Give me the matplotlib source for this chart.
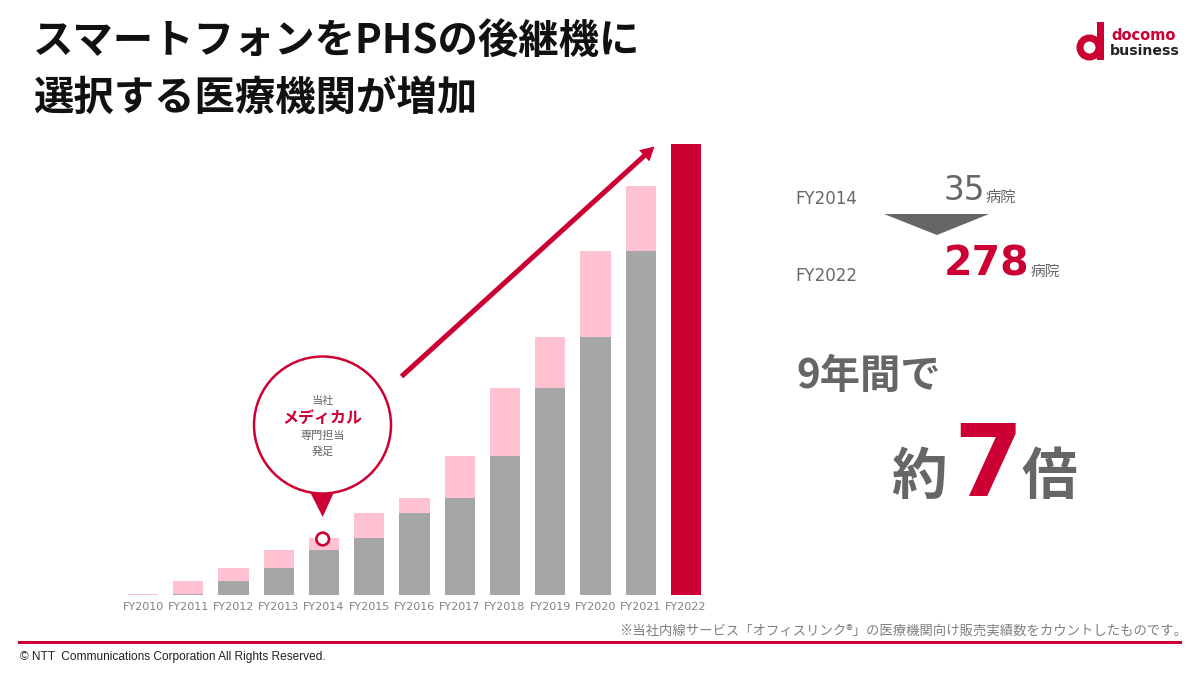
import matplotlib
matplotlib.use('Agg')
import matplotlib.pyplot as plt
from matplotlib.patches import Circle, Polygon, Rectangle, FancyArrowPatch

plt.rcParams['font.family'] = ['Noto Sans CJK JP', 'DejaVu Sans']

RED = '#CC0033'
PINK = '#FFC2D1'
GRAY = '#A6A6A6'
TEXT = '#666666'

# hospitals per fiscal year
years = ['FY2010', 'FY2011', 'FY2012', 'FY2013', 'FY2014', 'FY2015', 'FY2016',
         'FY2017', 'FY2018', 'FY2019', 'FY2020', 'FY2021', 'FY2022']
previous = [0, 1, 9, 17, 28, 35, 51, 60, 86, 128, 159, 212, 0]
added = [1, 8, 8, 11, 7, 16, 9, 26, 42, 31, 53, 40, 0]
final = [0, 0, 0, 0, 0, 0, 0, 0, 0, 0, 0, 0, 278]

W, H = 1200, 675
fig = plt.figure(figsize=(12, 6.75), dpi=100, facecolor='white')

# overlay in pixel coordinates for the slide furniture
bg = fig.add_axes([0, 0, 1, 1])
bg.set_xlim(0, W)
bg.set_ylim(H, 0)
bg.axis('off')

# chart axes, lined up with the baseline at y=595 and FY2022 top at y=144
step = 45.25
left, right = 143 - step / 2, 686 + step / 2
base, top = 595.3, 144
ax = fig.add_axes([left / W, 1 - base / H, (right - left) / W, (base - top) / H])
ax.patch.set_alpha(0)
x = list(range(len(years)))
ax.bar(x, previous, width=0.665, color=GRAY)
ax.bar(x, added, width=0.665, bottom=previous, color=PINK)
ax.bar(x, final, width=0.665, color=RED)
ax.set_xlim(-0.5, 12.5)
ax.set_ylim(0, 278)
ax.set_yticks([])
ax.set_xticks(x)
ax.set_xticklabels(years, fontsize=8, color='#808080', family=['DejaVu Sans'])
ax.tick_params(axis='x', length=0, pad=5)
for s in ax.spines.values():
    s.set_visible(False)

# title
bg.text(33, 42, 'スマートフォンをPHSの後継機に', fontsize=29.1, weight='bold', color='#111111', va='center')
bg.text(33, 98.5, '選択する医療機関が増加', fontsize=29.1, weight='bold', color='#111111', va='center')

# logo
bg.add_patch(Circle((1089.5, 47.5), 9.5, fc='none', ec=RED, lw=5))
bg.add_patch(Rectangle((1097, 22), 7, 38, fc=RED, ec='none'))
bg.text(1111, 36, 'docomo', fontsize=10.5, weight='bold', color=RED, va='center', family=['DejaVu Sans'])
bg.text(1110, 51, 'business', fontsize=10.2, weight='bold', color='#222222', va='center', family=['DejaVu Sans'])

# arrow
bg.add_patch(FancyArrowPatch((401.5, 376.5), (654.5, 146.5), mutation_scale=1, lw=0, color=RED,
                             arrowstyle='simple,head_length=10,head_width=11,tail_width=3.6',
                             shrinkA=0, shrinkB=0))

# callout
bg.add_patch(Polygon([(309, 490), (335, 490), (322.7, 517)], fc=RED, ec='none'))
bg.add_patch(Circle((322.5, 425), 68.5, fc='white', ec=RED, lw=1.8))
bg.add_patch(Circle((322.7, 539), 6.3, fc='white', ec=RED, lw=1.9, zorder=5))
bg.set_zorder(2)
bg.text(322.5, 401, '当社', fontsize=8, color=TEXT, ha='center', va='center')
bg.text(322.5, 419, 'メディカル', fontsize=11.5, weight='bold', color=RED, ha='center', va='center')
bg.text(322.5, 436, '専門担当', fontsize=8, color=TEXT, ha='center', va='center')
bg.text(322.5, 452, '発足', fontsize=8, color=TEXT, ha='center', va='center')

# right hand side
latin = ['DejaVu Sans']
bg.text(795, 199, 'FY2014', fontsize=12, color=TEXT, va='center', family=latin)
bg.text(795, 276, 'FY2022', fontsize=12, color=TEXT, va='center', family=latin)
bg.text(943, 190, '35', fontsize=23.5, color=TEXT, va='center', family=latin)
bg.text(986, 197, '病院', fontsize=11, color=TEXT, va='center')
bg.add_patch(Polygon([(884, 214), (989, 214), (937, 235)], fc='#666666', ec='none'))
bg.text(944, 264, '278', fontsize=29.5, color=RED, va='center', family=latin, weight='bold')
bg.text(1031, 272, '病院', fontsize=10.6, color=TEXT, va='center')
bg.text(796, 376, '9年間で', fontsize=29, weight='bold', color=TEXT, va='center')
bg.text(891, 478, '約', fontsize=40, weight='bold', color=TEXT, va='center')
bg.text(953, 468, '7', fontsize=72, weight='bold', color=RED, va='center', family=latin)
bg.text(1021, 478, '倍', fontsize=40, weight='bold', color=TEXT, va='center')

# footer
bg.add_patch(Rectangle((18, 640.5), 1164, 3, fc=RED, ec='none'))
bg.text(1187, 631, '※当社内線サービス「オフィスリンク®」の医療機関向け販売実績数をカウントしたものです。',
        fontsize=9.6, color='#808080', ha='right', va='center')
bg.text(20, 657, '© NTT  Communications Corporation All Rights Reserved.', fontsize=8.55, color='#222222',
        va='center', family=['Liberation Sans', 'DejaVu Sans'])

fig.savefig('out.png', dpi=100, facecolor='white')
